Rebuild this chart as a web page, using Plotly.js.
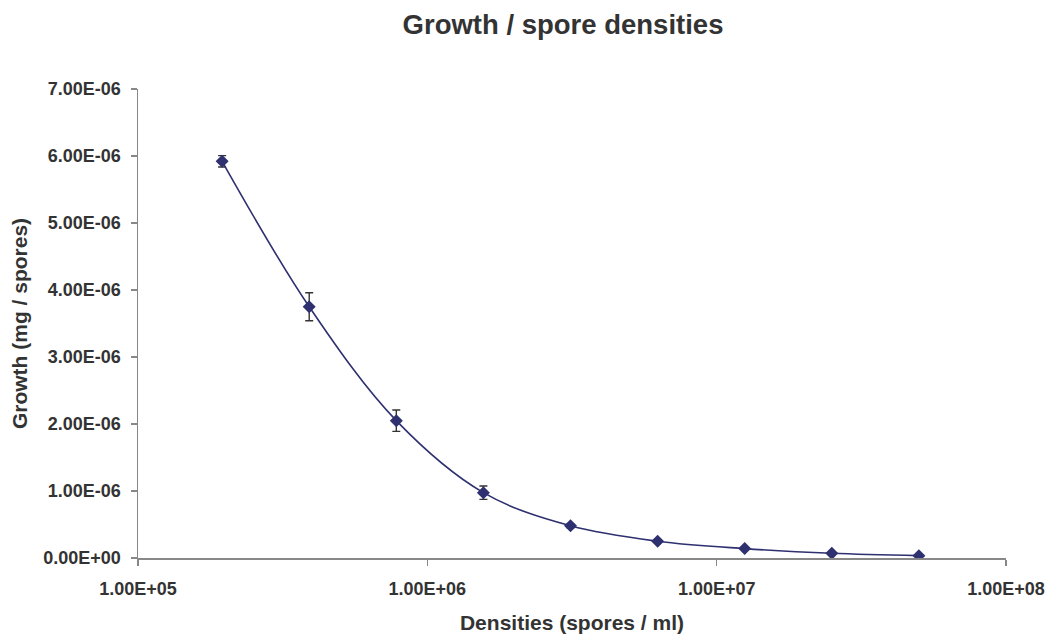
<!DOCTYPE html>
<html>
<head>
<meta charset="utf-8">
<script src="https://cdn.plot.ly/plotly-3.0.1.min.js"></script>
<style>
html,body{margin:0;padding:0;background:#fff;}
#chart{width:1049px;height:634px;}
</style>
</head>
<body>
<div id="chart"></div>
<script>
// Data
const densities = [1.953e5, 3.906e5, 7.8125e5, 1.5625e6, 3.125e6, 6.25e6, 1.25e7, 2.5e7, 5e7];
const growth = [5.92e-6, 3.75e-6, 2.05e-6, 0.975e-6, 0.48e-6, 0.25e-6, 0.14e-6, 0.07e-6, 0.035e-6];
const growthError = [0.085e-6, 0.21e-6, 0.16e-6, 0.10e-6, 0.03e-6, 0.015e-6, 0.01e-6, 0.005e-6, 0.005e-6];

const xTickVals = [1e5, 1e6, 1e7, 1e8];
const xTickText = ['1.00E+05', '1.00E+06', '1.00E+07', '1.00E+08'];
const yTickVals = [0, 1e-6, 2e-6, 3e-6, 4e-6, 5e-6, 6e-6, 7e-6];
const yTickText = ['0.00E+00', '1.00E-06', '2.00E-06', '3.00E-06', '4.00E-06', '5.00E-06', '6.00E-06', '7.00E-06'];

const FONT = 'Liberation Sans, Arial, sans-serif';
const TEXT = '#333333';
const AXIS = '#888888';
const bold = s => '<b>' + s + '</b>';

const trace = {
  x: densities,
  y: growth,
  type: 'scatter',
  mode: 'lines+markers',
  line: {shape: 'spline', smoothing: 1, color: '#2E3070', width: 1.6},
  marker: {symbol: 'diamond', size: 10, color: '#2E3070'},
  error_y: {type: 'data', array: growthError, visible: true, color: '#333333', thickness: 1.4, width: 4},
  showlegend: false,
  hoverinfo: 'x+y'
};

const layout = {
  width: 1049,
  height: 634,
  paper_bgcolor: '#ffffff',
  plot_bgcolor: '#ffffff',
  margin: {l: 138, r: 43, t: 89, b: 76, pad: 0},
  font: {family: FONT, color: TEXT},
  title: {
    text: '<b>Growth / spore densities</b>',
    font: {family: FONT, size: 27.5, color: TEXT},
    x: 563 / 1049, xref: 'container', xanchor: 'center',
    y: 0.962, yref: 'container', yanchor: 'middle'
  },
  xaxis: {
    type: 'log',
    range: [5, 8],
    tickmode: 'array',
    tickvals: xTickVals,
    ticktext: xTickText.map(bold),
    tickfont: {family: FONT, size: 18, color: TEXT, weight: 700},
    ticks: 'outside', ticklen: 6, tickwidth: 1.2, tickcolor: AXIS,
    ticklabelstandoff: 8,
    showline: true, linecolor: AXIS, linewidth: 1.5,
    showgrid: false, zeroline: false,
    title: {text: '<b>Densities (spores / ml)</b>', font: {family: FONT, size: 21, color: TEXT}, standoff: 17}
  },
  yaxis: {
    range: [0, 7e-6],
    tickmode: 'array',
    tickvals: yTickVals,
    ticktext: yTickText.map(bold),
    tickfont: {family: FONT, size: 18, color: TEXT, weight: 700},
    ticks: 'outside', ticklen: 6, tickwidth: 1.2, tickcolor: AXIS,
    ticklabelstandoff: 6,
    showline: true, linecolor: AXIS, linewidth: 1.5,
    showgrid: false, zeroline: false,
    title: {text: '<b>Growth (mg / spores)</b>', font: {family: FONT, size: 21, color: TEXT}, standoff: 10}
  }
};

Plotly.newPlot('chart', [trace], layout, {staticPlot: true, displayModeBar: false});
</script>
</body>
</html>
